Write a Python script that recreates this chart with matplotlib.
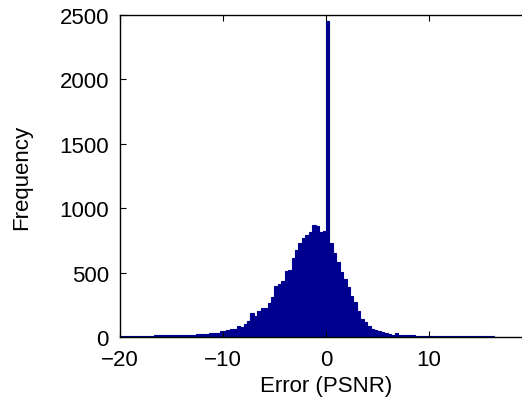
"""Histogram of prediction error (PSNR)."""

import numpy as np
import matplotlib

matplotlib.use("Agg")
import matplotlib.pyplot as plt

plt.rcParams["font.family"] = ["Liberation Sans", "DejaVu Sans"]
plt.rcParams["axes.unicode_minus"] = True

# Histogram bins: left edge of first bin and bin width (PSNR units)
BIN_START = -20.0
BIN_WIDTH = 1.0 / 3.0

# Counts per bin, from -20 upward
counts = [
    10, 8, 9, 9, 8, 9, 10, 9, 10, 11, 12, 12, 13, 12, 14, 15, 16, 17, 15, 18, 19, 18, 20,
    22, 23, 22, 28, 31, 30, 46, 50, 58, 62, 62, 85, 75, 100, 128,
    184, 166, 204, 222, 225, 261, 308, 393, 411, 432, 515, 520,
    611, 678, 730, 766, 792, 813, 870, 859, 818, 822,
    2455,
    728, 650, 582, 507, 450, 386, 321, 274, 204, 140, 114, 88,
    65, 55, 45, 36, 28, 22, 16, 30, 17, 15, 14, 13, 12, 11, 10, 10,
    9, 9, 9, 8, 8, 8, 8, 7, 7, 7, 7, 6, 7, 6, 6, 6, 5, 6, 5, 5,
]

x_ticks = [-20, -10, 0, 10]
y_ticks = [0, 500, 1000, 1500, 2000, 2500]

bar_color = "#00008F"

fig = plt.figure(figsize=(5.22, 4.14), dpi=100)
# axes run past the right edge of the figure, so the right spine is cut off
ax = fig.add_axes([0.2299, 0.1836, 0.789, 0.7778])

left_edges = BIN_START + BIN_WIDTH * np.arange(len(counts))
ax.bar(left_edges, counts, width=BIN_WIDTH, align="edge",
       color=bar_color, edgecolor=bar_color, linewidth=0.8)

ax.set_xlim(-20, 20)
ax.set_ylim(0, 2500)
ax.set_xticks(x_ticks)
ax.set_yticks(y_ticks)
ax.tick_params(direction="in", length=4, width=0.8, top=True, right=True,
               labelsize=16, colors="black")
ax.tick_params(axis="x", pad=9)
ax.tick_params(axis="y", pad=8)
for spine in ax.spines.values():
    spine.set_linewidth(1.0)
    spine.set_color("black")

ax.set_xlabel("Error (PSNR)", fontsize=16)
ax.set_ylabel("Frequency", fontsize=16)
ax.xaxis.set_label_coords(0.5, -0.118)
ax.yaxis.set_label_coords(-0.238, 0.5)
ax.yaxis.label.set_va("center")
ax.xaxis.label.set_va("top")

fig.savefig("out.png", dpi=100)
